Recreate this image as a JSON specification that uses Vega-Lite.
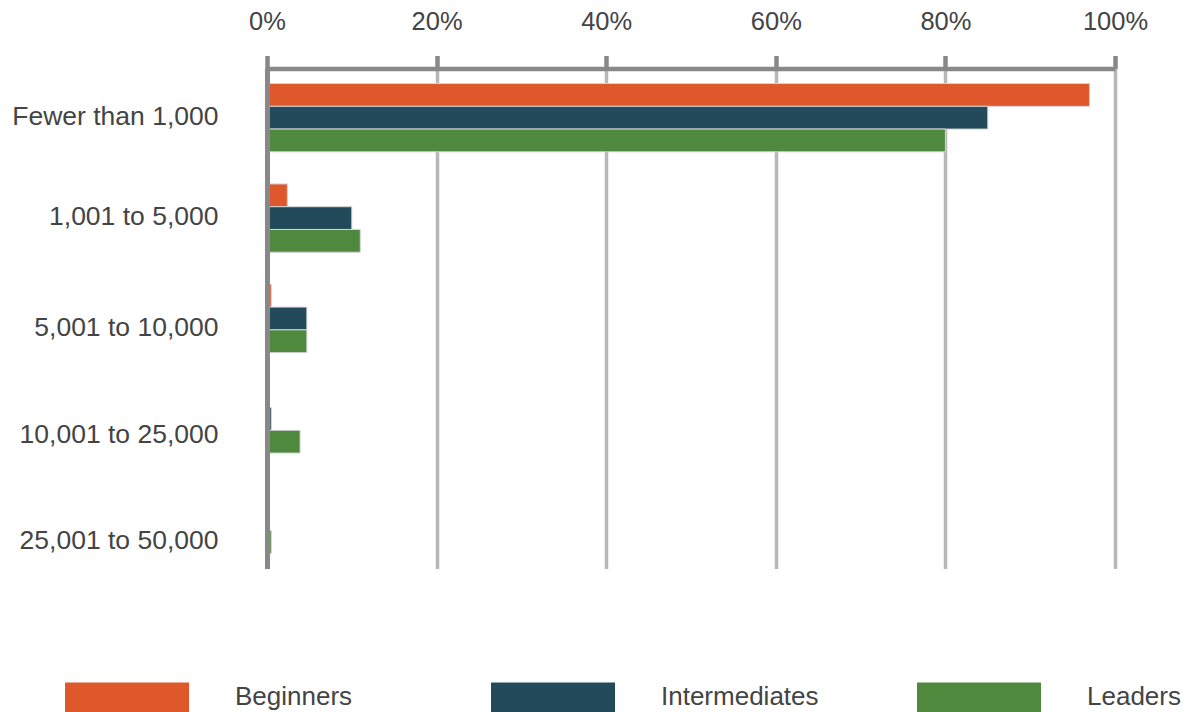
{
  "$schema": "https://vega.github.io/schema/vega-lite/v6.json",
  "width": 848,
  "height": 500,
  "autosize": {"type": "none"},
  "padding": {"left": 267, "top": 68.5, "right": 71, "bottom": 143.5},
  "background": "white",
  "config": {"view": {"stroke": null}, "font": "Liberation Sans"},
  "data": {
    "values": [
      {"size": "Fewer than 1,000", "group": "Beginners", "pct": 97},
      {"size": "Fewer than 1,000", "group": "Intermediates", "pct": 85},
      {"size": "Fewer than 1,000", "group": "Leaders", "pct": 80},
      {"size": "1,001 to 5,000", "group": "Beginners", "pct": 2.4},
      {"size": "1,001 to 5,000", "group": "Intermediates", "pct": 10},
      {"size": "1,001 to 5,000", "group": "Leaders", "pct": 11},
      {"size": "5,001 to 10,000", "group": "Beginners", "pct": 0.5},
      {"size": "5,001 to 10,000", "group": "Intermediates", "pct": 4.7},
      {"size": "5,001 to 10,000", "group": "Leaders", "pct": 4.7},
      {"size": "10,001 to 25,000", "group": "Beginners", "pct": 0},
      {"size": "10,001 to 25,000", "group": "Intermediates", "pct": 0.5},
      {"size": "10,001 to 25,000", "group": "Leaders", "pct": 3.9},
      {"size": "25,001 to 50,000", "group": "Beginners", "pct": 0},
      {"size": "25,001 to 50,000", "group": "Intermediates", "pct": 0},
      {"size": "25,001 to 50,000", "group": "Leaders", "pct": 0.5}
    ]
  },
  "mark": {"type": "bar", "stroke": "#d4d4d4", "strokeWidth": 1},
  "encoding": {
    "y": {
      "field": "size",
      "type": "nominal",
      "sort": ["Fewer than 1,000", "1,001 to 5,000", "5,001 to 10,000", "10,001 to 25,000", "25,001 to 50,000"],
      "scale": {"paddingInner": 0.32, "paddingOuter": 0.15},
      "axis": {
        "title": null,
        "orient": "left",
        "ticks": false,
        "tickSize": 0,
        "domainColor": "#888888",
        "domainWidth": 5,
        "labelFont": "Liberation Sans",
        "labelFontSize": 26.5,
        "labelColor": "#444444",
        "labelPadding": 49,
        "labelAlign": "right",
        "labelBaseline": "middle",
        "labelLimit": 0,
        "zindex": 1,
        "labelOffset": {
          "condition": [
            {"test": "datum.value === '5,001 to 10,000'", "value": 9},
            {"test": "datum.value === '10,001 to 25,000'", "value": 16},
            {"test": "datum.value === '25,001 to 50,000'", "value": 22}
          ],
          "value": -1
        }
      }
    },
    "yOffset": {
      "field": "group",
      "type": "nominal",
      "sort": ["Beginners", "Intermediates", "Leaders"],
      "scale": {"paddingInner": 0, "paddingOuter": 0}
    },
    "x": {
      "field": "pct",
      "type": "quantitative",
      "scale": {"domain": [0, 100], "nice": false},
      "axis": {
        "title": null,
        "orient": "top",
        "values": [0, 20, 40, 60, 80, 100],
        "labelExpr": "datum.value + '%'",
        "labelFont": "Liberation Sans",
        "labelFontSize": 25.5,
        "labelColor": "#444444",
        "labelPadding": 26,
        "labelBaseline": "alphabetic",
        "labelFlush": false,
        "domainColor": "#888888",
        "domainWidth": 4.5,
        "tickColor": "#888888",
        "tickWidth": 4.5,
        "tickSize": 13,
        "grid": true,
        "gridColor": "#b8b8b8",
        "gridWidth": 3.5,
        "zindex": 0
      }
    },
    "color": {
      "field": "group",
      "type": "nominal",
      "sort": ["Beginners", "Intermediates", "Leaders"],
      "scale": {
        "domain": ["Beginners", "Intermediates", "Leaders"],
        "range": ["#de582b", "#234a5a", "#4e893d"]
      },
      "legend": {
        "title": null,
        "orient": "none",
        "legendX": -202,
        "legendY": 566.5,
        "direction": "horizontal",
        "columns": 3,
        "gridAlign": "all",
        "columnPadding": 98,
        "symbolType": "M-1,-0.242L1,-0.242L1,0.242L-1,0.242Z",
        "symbolSize": 15376,
        "symbolStrokeWidth": 0,
        "symbolOpacity": 1,
        "labelFont": "Liberation Sans",
        "labelFontSize": 26,
        "labelColor": "#444444",
        "labelOffset": 46,
        "labelLimit": 0
      }
    }
  }
}
